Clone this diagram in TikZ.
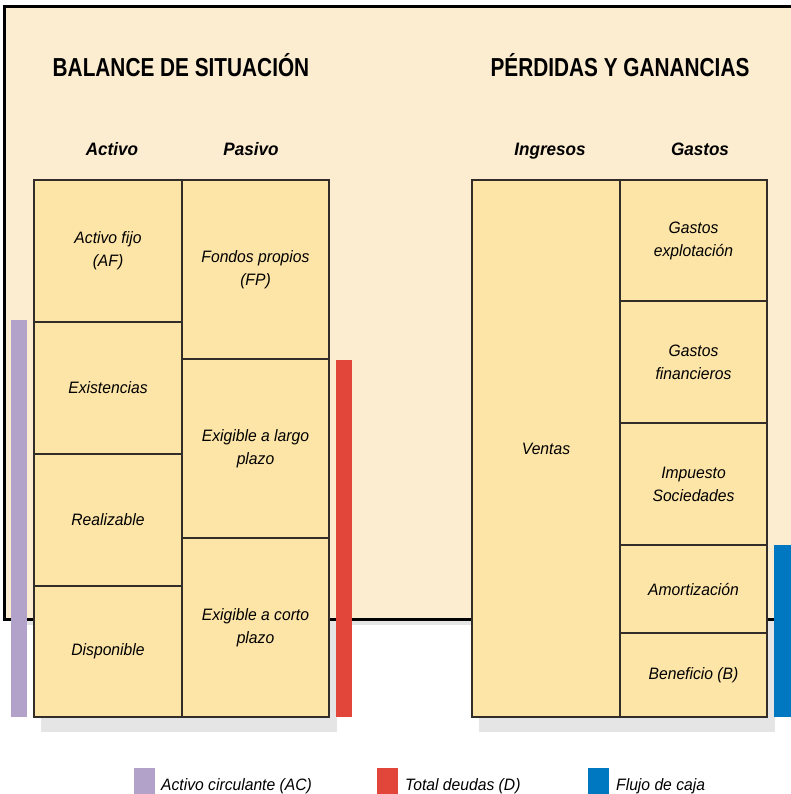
\documentclass[tikz,border=0pt]{standalone}
\usepackage{fontspec}
\setmainfont{Liberation Sans}[FakeStretch=0.95]
\newfontfamily\titlefont{Liberation Sans}[FakeStretch=0.8]
\definecolor{cream}{RGB}{253,237,208}
\definecolor{cellfill}{RGB}{253,228,167}
\definecolor{cellline}{RGB}{50,45,40}
\definecolor{shadowgrey}{RGB}{229,229,229}
\definecolor{acpurple}{RGB}{178,162,202}
\definecolor{tdred}{RGB}{226,69,58}
\definecolor{fcblue}{RGB}{0,120,193}

\begin{document}
\begin{tikzpicture}[x=1pt,y=-1pt,
cell/.style={draw=cellline,fill=cellfill,line width=1.4pt,anchor=north west,inner sep=0pt,outer sep=0pt,align=center,font=\fontsize{16.5}{23}\selectfont\itshape},
colhead/.style={anchor=base,font=\fontsize{18}{22}\selectfont\bfseries\itshape},
maintitle/.style={anchor=base,font=\titlefont\fontsize{26}{30}\selectfont\bfseries},
legend/.style={anchor=base west,inner sep=0pt,font=\fontsize{16.5}{20}\selectfont\itshape}]
\useasboundingbox (0,0) rectangle (791,794);
\fill[white] (0,0) rectangle (791,794);
\fill[shadowgrey] (41,195) rectangle (337,732);
\fill[shadowgrey] (479,195) rectangle (775,732);
\fill[shadowgrey] (11,12) rectangle (810,625);
\draw[line width=3pt,fill=cream] (4.5,6.5) rectangle (810,619);

\node[maintitle] at (181,77)	(bal) {BALANCE DE SITUACIÓN};
\node[maintitle] at (620,77)	(pyg) {PÉRDIDAS Y GANANCIAS};

\node[colhead] at (112,156)	(act) {Activo};
\node[colhead] at (251,156)	(pas) {Pasivo};
\node[colhead] at (550,156)	(ing) {Ingresos};
\node[colhead] at (700,156)	(gas) {Gastos};

\node[cell,minimum width=148pt,minimum height=142pt] at (34,180)	(af) {Activo fijo\\(AF)};
\node[cell,minimum width=148pt,minimum height=132pt] at (34,322)	(ex) {Existencias};
\node[cell,minimum width=148pt,minimum height=132pt] at (34,454)	(re) {Realizable};
\node[cell,minimum width=148pt,minimum height=131pt] at (34,586)	(di) {Disponible};
\node[cell,minimum width=147pt,minimum height=179pt] at (182,180)	(fp) {Fondos propios\\(FP)};
\node[cell,minimum width=147pt,minimum height=179pt] at (182,359)	(elp) {Exigible a largo\\plazo};
\node[cell,minimum width=147pt,minimum height=179pt] at (182,538)	(ecp) {Exigible a corto\\plazo};

\node[cell,minimum width=148pt,minimum height=537pt] at (472,180)	(ve) {Ventas};
\node[cell,minimum width=147pt,minimum height=121pt] at (620,180)	(ge) {Gastos\\explotación};
\node[cell,minimum width=147pt,minimum height=122pt] at (620,301)	(gf) {Gastos\\financieros};
\node[cell,minimum width=147pt,minimum height=122pt] at (620,423)	(is) {Impuesto\\Sociedades};
\node[cell,minimum width=147pt,minimum height=88pt] at (620,545)	(am) {Amortización};
\node[cell,minimum width=147pt,minimum height=84pt] at (620,633)	(be) {Beneficio (B)};

\fill[acpurple] (11,320) rectangle (27,717);
\fill[tdred] (336,360) rectangle (352,717);
\fill[fcblue] (774,545) rectangle (795,717);

\fill[acpurple] (134,768) rectangle (155,795);
\node[legend] at (161,790)	(lac) {Activo circulante (AC)};
\fill[tdred] (377,768) rectangle (398,795);
\node[legend] at (405,790)	(ltd) {Total deudas (D)};
\fill[fcblue] (588,768) rectangle (609,795);
\node[legend] at (616,790)	(lfc) {Flujo de caja};
\end{tikzpicture}
\end{document}
